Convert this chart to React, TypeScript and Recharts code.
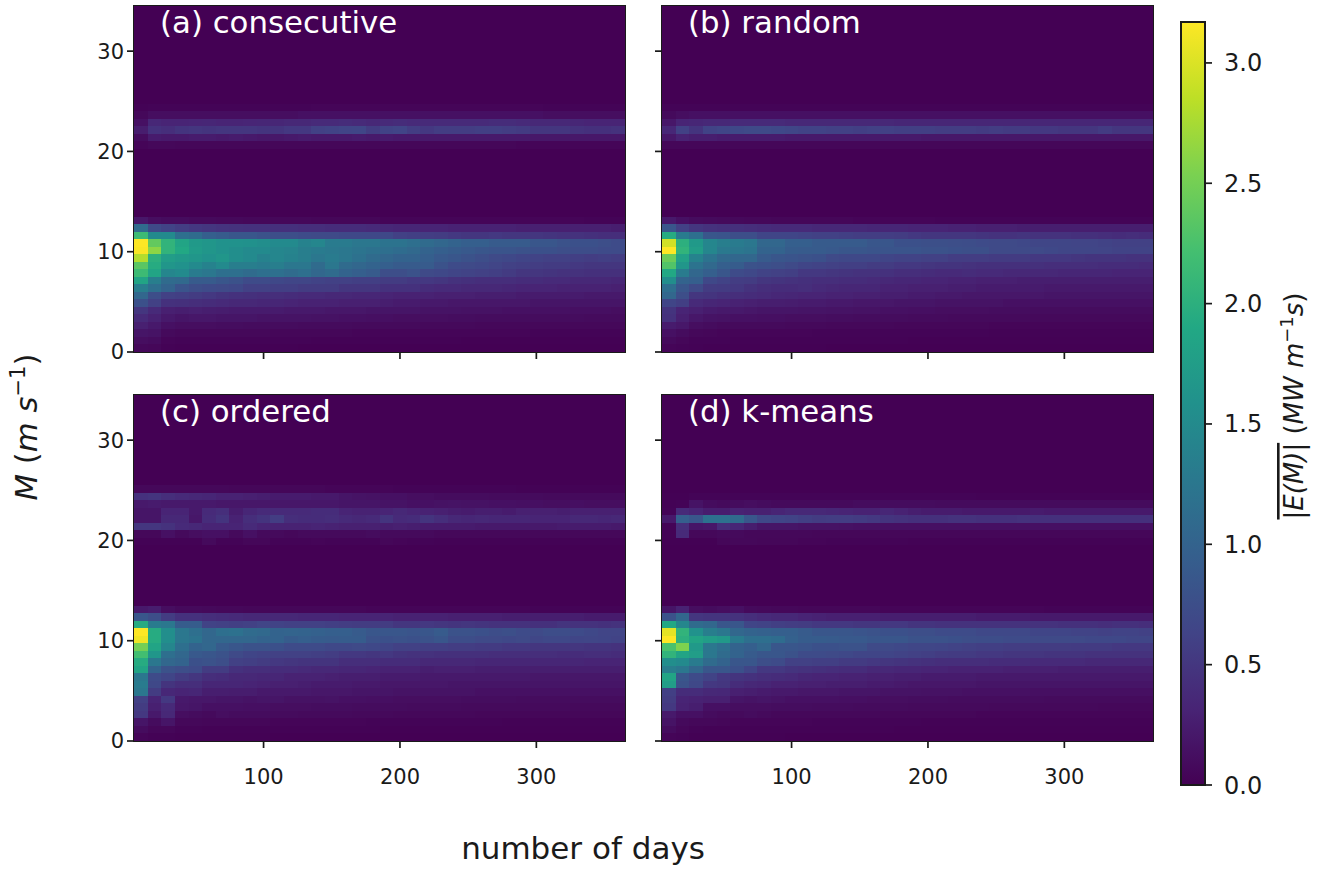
import React from 'react';
import { Bar, BarChart, Rectangle, ReferenceArea, XAxis, YAxis } from 'recharts';

// centre of each 10 day column
const days = [10, 20, 30, 40, 50, 60, 70, 80, 90, 100, 110, 120, 130, 140, 150, 160, 170, 180, 190, 200, 210, 220, 230, 240, 250, 260, 270, 280, 290, 300, 310, 320, 330, 340, 350, 360];
const binHeight = 0.75;
const binCount = 46;
const bandStart = 26;
const vMax = 3.17;

const viridis = ['#440154', '#482475', '#414487', '#355f8d', '#2a788e', '#21918c', '#22a884', '#44bf70', '#7ad151', '#bddf26', '#fde725'];
const yTicks = [0, 10, 20, 30];
const xTicks = [100, 200, 300];
const barTicks = [0, 0.5, 1, 1.5, 2, 2.5, 3];

// values are in 0.01 MW/m*s, rows go upward from M = 0 in 0.75 m/s bins, missing cells are 0
const consecutiveLow = [
  [6, 5, 2, 1, 1, 1, 1, 1, 1, 1, 1, 1],
  [12, 10, 4, 3, 3, 3, 3, 3, 3, 3, 3, 3, 3, 2, 2, 2, 2, 2, 2, 2, 2, 2, 2, 2, 1, 1, 1, 1, 1, 1, 1, 1, 1, 1, 1, 1],
  [18, 16, 8, 6, 6, 6, 6, 6, 6, 6, 5, 5, 5, 5, 5, 5, 4, 4, 4, 4, 4, 4, 4, 4, 4, 4, 4, 4, 4, 3, 3, 3, 3, 3, 3, 3],
  [28, 22, 14, 12, 12, 12, 11, 11, 10, 10, 10, 10, 9, 9, 9, 9, 8, 8, 8, 8, 8, 7, 7, 7, 7, 6, 6, 6, 6, 6, 6, 6, 6, 6, 6, 6],
  [38, 30, 22, 18, 20, 20, 18, 18, 18, 16, 16, 16, 16, 15, 15, 14, 14, 13, 13, 12, 12, 12, 12, 11, 11, 10, 10, 10, 10, 10, 10, 10, 10, 9, 9, 9],
  [50, 38, 28, 26, 28, 26, 25, 24, 24, 24, 24, 22, 22, 22, 20, 20, 20, 18, 18, 18, 18, 16, 16, 16, 15, 15, 15, 14, 14, 14, 14, 14, 13, 13, 13, 12],
  [78, 60, 45, 44, 42, 40, 38, 36, 36, 34, 34, 32, 30, 30, 30, 28, 28, 28, 26, 24, 24, 22, 22, 20, 20, 20, 20, 20, 20, 18, 18, 18, 18, 18, 18, 18],
  [105, 75, 60, 58, 55, 52, 48, 45, 44, 42, 42, 40, 38, 38, 36, 36, 34, 34, 32, 30, 30, 30, 28, 28, 28, 26, 26, 26, 24, 24, 24, 24, 24, 22, 22, 22],
  [135, 115, 100, 82, 75, 72, 70, 68, 60, 60, 58, 58, 55, 55, 55, 50, 50, 50, 45, 45, 45, 40, 38, 38, 36, 36, 36, 34, 32, 32, 32, 30, 30, 30, 30, 28],
  [185, 135, 110, 108, 90, 90, 85, 80, 72, 72, 68, 66, 66, 62, 60, 60, 58, 58, 55, 55, 52, 52, 50, 46, 44, 42, 42, 42, 40, 40, 38, 38, 36, 36, 36, 34],
  [215, 185, 145, 150, 130, 125, 115, 115, 110, 115, 115, 110, 115, 105, 110, 100, 95, 90, 75, 75, 80, 70, 68, 65, 62, 60, 58, 54, 50, 50, 48, 46, 46, 44, 44, 44],
  [235, 195, 165, 160, 150, 140, 150, 135, 135, 130, 135, 125, 125, 110, 125, 110, 105, 100, 95, 90, 90, 90, 80, 72, 70, 68, 64, 60, 58, 56, 54, 54, 52, 50, 50, 50],
  [280, 200, 175, 170, 165, 160, 165, 155, 150, 140, 145, 140, 135, 125, 130, 125, 118, 110, 105, 100, 100, 95, 88, 85, 80, 75, 70, 68, 65, 62, 60, 60, 58, 56, 58, 56],
  [315, 262, 205, 190, 172, 165, 160, 155, 150, 150, 145, 142, 135, 130, 128, 125, 122, 118, 115, 112, 108, 100, 95, 92, 88, 85, 82, 82, 80, 78, 78, 75, 74, 74, 72, 72],
  [318, 240, 205, 185, 170, 165, 160, 160, 158, 155, 150, 150, 140, 145, 130, 130, 125, 125, 120, 120, 115, 110, 105, 100, 95, 95, 90, 90, 90, 85, 85, 80, 78, 78, 75, 72],
  [215, 150, 150, 115, 110, 95, 90, 85, 85, 80, 75, 75, 72, 70, 70, 68, 68, 68, 68, 60, 58, 56, 55, 52, 50, 50, 52, 50, 50, 50, 48, 46, 46, 44, 42, 42],
  [110, 70, 62, 56, 52, 50, 47, 46, 45, 45, 44, 44, 42, 42, 40, 40, 40, 38, 36, 34, 34, 32, 32, 30, 30, 30, 30, 30, 28, 28, 28, 28, 28, 28, 28, 26],
  [20, 12, 10, 10, 8, 8, 7, 7, 6, 6, 6, 6, 6, 5, 5, 5, 5, 5, 4, 4, 4, 4, 4, 4, 4, 4, 4, 4, 4, 4, 4, 4, 4, 3, 3, 3],
];
const consecutiveBand = [
  [],
  [4, 6, 6, 5, 5, 5, 5, 5, 5, 5, 5, 5, 5, 5, 5, 5, 5, 5, 5, 5, 5, 5, 5, 5, 5, 5, 5, 5, 4, 4, 4, 4, 4, 4, 4, 4],
  [10, 24, 22, 22, 24, 24, 22, 24, 22, 20, 20, 22, 24, 22, 22, 22, 24, 22, 24, 22, 22, 22, 22, 22, 22, 22, 22, 22, 22, 20, 20, 20, 20, 20, 20, 20],
  [25, 45, 42, 48, 50, 48, 50, 50, 50, 48, 48, 52, 52, 60, 62, 64, 66, 55, 62, 64, 56, 52, 56, 56, 56, 58, 58, 56, 54, 50, 50, 50, 46, 44, 44, 46],
  [14, 35, 32, 32, 33, 34, 32, 32, 33, 34, 34, 36, 36, 38, 38, 40, 38, 36, 38, 40, 38, 38, 38, 38, 38, 38, 40, 40, 38, 36, 36, 36, 34, 32, 32, 32],
  [6, 12, 12, 12, 12, 12, 12, 12, 12, 12, 12, 12, 14, 14, 14, 14, 14, 14, 14, 14, 14, 14, 14, 14, 14, 14, 14, 14, 14, 14, 12, 12, 12, 12, 12, 12],
  [2, 3, 3, 3, 3, 3, 3, 3, 3, 3, 3, 3, 3, 4, 4, 4, 4, 4, 4, 4, 4, 4, 4, 4, 4, 4, 4, 4, 4, 4, 3, 3, 3, 3, 3, 3],
];

const randomLow = [
  [4, 3, 2, 1, 1, 1, 1, 1, 1, 1, 1, 1],
  [8, 5, 3, 3, 3, 2, 2, 2, 2, 2, 2, 2, 2, 2, 2, 2, 2, 2, 1, 1, 1, 1, 1, 1, 1, 1, 1, 1, 1, 1, 1, 1, 1, 1, 1, 1],
  [14, 10, 6, 5, 4, 4, 4, 4, 4, 4, 4, 3, 3, 3, 3, 3, 3, 3, 3, 3, 3, 3, 3, 3, 2, 2, 2, 2, 2, 2, 2, 2, 2, 2, 2, 2],
  [24, 20, 12, 10, 8, 8, 8, 8, 8, 7, 7, 7, 6, 6, 6, 6, 6, 5, 5, 5, 5, 5, 5, 5, 4, 4, 4, 4, 4, 4, 4, 4, 4, 4, 4, 4],
  [45, 28, 20, 16, 15, 14, 14, 13, 13, 12, 12, 12, 11, 11, 10, 10, 10, 10, 9, 9, 9, 8, 8, 8, 8, 8, 8, 7, 7, 7, 7, 7, 7, 7, 7, 7],
  [48, 32, 28, 24, 22, 22, 20, 18, 18, 18, 17, 17, 16, 16, 15, 15, 14, 14, 13, 13, 12, 12, 12, 12, 11, 11, 11, 10, 10, 10, 10, 10, 10, 10, 10, 10],
  [65, 58, 38, 34, 32, 30, 28, 26, 26, 25, 24, 24, 22, 22, 20, 20, 20, 18, 18, 18, 16, 16, 16, 16, 16, 14, 14, 14, 14, 14, 14, 14, 14, 14, 14, 14],
  [105, 75, 50, 48, 44, 42, 40, 38, 35, 34, 32, 32, 30, 30, 28, 28, 26, 26, 24, 24, 22, 22, 20, 20, 20, 20, 20, 20, 18, 18, 18, 18, 18, 18, 18, 18],
  [115, 85, 70, 55, 54, 52, 46, 42, 40, 40, 42, 38, 36, 34, 34, 34, 30, 30, 28, 28, 28, 26, 26, 24, 24, 24, 24, 24, 22, 22, 22, 22, 22, 22, 22, 22],
  [155, 100, 95, 68, 62, 56, 55, 50, 48, 46, 44, 42, 42, 40, 40, 38, 36, 34, 34, 32, 32, 30, 30, 28, 28, 28, 26, 26, 26, 26, 26, 26, 26, 26, 26, 26],
  [190, 130, 105, 95, 85, 72, 68, 62, 60, 58, 52, 52, 50, 48, 46, 46, 45, 42, 42, 40, 38, 38, 40, 38, 38, 36, 36, 36, 36, 34, 34, 34, 34, 32, 32, 32],
  [230, 165, 120, 108, 95, 92, 80, 78, 75, 70, 65, 62, 60, 58, 58, 55, 55, 52, 52, 50, 48, 48, 46, 44, 44, 44, 44, 44, 42, 42, 42, 42, 40, 40, 40, 38],
  [245, 180, 140, 120, 108, 105, 105, 90, 85, 82, 80, 78, 70, 68, 68, 68, 65, 62, 62, 60, 60, 56, 56, 56, 54, 54, 54, 52, 52, 52, 50, 48, 48, 48, 46, 46],
  [318, 205, 175, 145, 128, 125, 122, 100, 100, 92, 90, 90, 88, 85, 85, 82, 82, 82, 82, 80, 80, 78, 76, 76, 70, 70, 70, 70, 68, 66, 66, 66, 64, 62, 62, 62],
  [295, 200, 170, 145, 135, 130, 125, 105, 105, 95, 95, 90, 90, 90, 90, 85, 85, 78, 78, 76, 76, 75, 74, 72, 70, 70, 68, 66, 66, 66, 64, 64, 62, 60, 60, 60],
  [195, 130, 115, 85, 82, 75, 75, 65, 65, 65, 62, 60, 60, 58, 56, 56, 56, 55, 52, 50, 50, 50, 50, 48, 46, 46, 48, 46, 46, 46, 44, 44, 42, 40, 42, 40],
  [85, 60, 50, 46, 44, 44, 42, 40, 38, 38, 38, 36, 36, 36, 36, 34, 34, 34, 32, 32, 32, 30, 30, 28, 28, 28, 26, 26, 26, 26, 26, 26, 26, 26, 26, 26],
  [22, 14, 10, 9, 8, 7, 6, 6, 5, 5, 5, 5, 5, 5, 4, 4, 4, 4, 4, 4, 3, 3, 3, 3, 3, 3, 3, 3, 3, 3, 3, 3, 3, 3, 3, 3],
];
const randomBand = [
  [],
  [5, 5, 5, 5, 5, 5, 5, 5, 5, 5, 5, 5, 5, 5, 5, 5, 5, 5, 5, 5, 5, 5, 5, 5, 5, 5, 5, 5, 5, 5, 5, 5, 5, 5, 5, 5],
  [20, 30, 26, 26, 24, 24, 24, 24, 24, 22, 22, 22, 22, 22, 22, 22, 22, 22, 22, 20, 20, 20, 20, 20, 20, 20, 20, 20, 20, 20, 20, 20, 20, 20, 20, 20],
  [35, 60, 48, 62, 66, 68, 70, 70, 68, 66, 62, 62, 60, 60, 58, 60, 60, 58, 58, 58, 56, 56, 56, 54, 56, 54, 54, 52, 52, 50, 50, 50, 54, 50, 50, 50],
  [20, 32, 34, 36, 36, 38, 38, 38, 38, 36, 36, 36, 36, 36, 36, 36, 36, 34, 34, 34, 34, 34, 34, 34, 34, 34, 34, 34, 34, 34, 34, 34, 34, 34, 34, 34],
  [8, 12, 14, 14, 14, 14, 14, 14, 14, 14, 14, 14, 14, 14, 14, 14, 14, 14, 14, 14, 14, 14, 14, 14, 14, 14, 14, 14, 14, 14, 14, 14, 14, 14, 14, 14],
  [3, 3, 3, 3, 3, 3, 3, 3, 3, 3, 3, 3, 3, 3, 3, 3, 3, 3, 3, 3, 3, 3, 3, 3, 3, 3, 3, 3, 3, 3, 3, 3, 3, 3, 3, 3],
];

const orderedLow = [
  [4, 2, 2, 1, 1, 1, 1, 1, 1, 1],
  [10, 5, 5, 3, 3, 2, 2, 2, 2, 2, 2, 2, 2, 2, 2, 2, 2, 2, 1, 1, 1, 1, 1, 1, 1, 1, 1, 1, 1, 1, 1, 1, 1, 1, 1, 1],
  [18, 10, 18, 6, 6, 5, 5, 5, 5, 5, 4, 4, 4, 4, 4, 4, 4, 3, 3, 3, 3, 3, 3, 3, 3, 3, 3, 2, 2, 2, 2, 2, 2, 2, 2, 2],
  [52, 22, 36, 12, 10, 8, 12, 10, 10, 10, 9, 9, 8, 8, 8, 8, 7, 7, 7, 6, 6, 6, 6, 6, 6, 5, 5, 5, 5, 5, 5, 5, 5, 5, 5, 5],
  [55, 28, 38, 20, 18, 14, 14, 14, 13, 13, 12, 12, 12, 11, 11, 11, 10, 10, 10, 10, 9, 9, 9, 9, 8, 8, 8, 8, 8, 8, 8, 8, 7, 7, 7, 7],
  [60, 32, 52, 22, 20, 20, 18, 18, 16, 18, 18, 15, 15, 15, 16, 14, 14, 13, 13, 12, 12, 12, 12, 12, 11, 11, 11, 11, 10, 10, 10, 10, 10, 10, 10, 10],
  [125, 55, 35, 32, 34, 26, 26, 25, 25, 22, 22, 22, 22, 20, 20, 20, 18, 18, 18, 16, 16, 16, 16, 16, 16, 14, 14, 14, 14, 14, 14, 14, 14, 14, 14, 14],
  [130, 68, 48, 42, 42, 34, 34, 34, 32, 30, 28, 28, 26, 24, 24, 24, 22, 22, 20, 20, 20, 20, 20, 18, 18, 18, 18, 18, 18, 18, 18, 18, 18, 18, 18, 18],
  [125, 72, 65, 55, 50, 42, 40, 36, 36, 34, 34, 30, 30, 30, 28, 26, 26, 26, 24, 24, 24, 22, 22, 22, 22, 22, 22, 22, 22, 20, 20, 20, 20, 20, 20, 20],
  [185, 100, 80, 75, 72, 55, 55, 45, 42, 42, 40, 40, 38, 36, 36, 34, 34, 32, 30, 30, 30, 26, 28, 28, 28, 26, 26, 26, 26, 26, 26, 26, 26, 26, 26, 26],
  [195, 125, 105, 100, 78, 80, 75, 60, 58, 55, 52, 50, 48, 48, 48, 42, 42, 42, 40, 40, 40, 36, 36, 36, 36, 34, 34, 34, 34, 34, 34, 34, 34, 32, 32, 32],
  [220, 165, 115, 105, 88, 85, 80, 70, 65, 62, 60, 60, 60, 58, 56, 52, 52, 50, 52, 48, 46, 46, 44, 44, 44, 44, 42, 42, 42, 42, 42, 40, 40, 42, 42, 40],
  [250, 185, 145, 115, 100, 105, 90, 85, 80, 80, 78, 72, 72, 72, 68, 68, 70, 68, 65, 60, 60, 58, 58, 56, 56, 54, 54, 52, 52, 50, 50, 50, 50, 48, 48, 46],
  [310, 195, 155, 125, 120, 105, 105, 105, 105, 100, 100, 92, 95, 92, 90, 92, 92, 80, 78, 80, 78, 80, 85, 74, 74, 70, 70, 68, 70, 66, 68, 68, 65, 66, 65, 62],
  [318, 195, 155, 125, 115, 105, 115, 118, 110, 108, 100, 102, 100, 98, 95, 95, 90, 85, 85, 85, 82, 85, 90, 80, 80, 78, 74, 76, 72, 70, 74, 74, 72, 68, 64, 64],
  [195, 130, 125, 92, 92, 62, 60, 58, 60, 64, 62, 60, 60, 60, 58, 56, 55, 55, 55, 50, 50, 52, 50, 48, 50, 48, 46, 46, 46, 44, 44, 48, 46, 46, 44, 46],
  [85, 75, 55, 45, 45, 42, 40, 38, 36, 36, 36, 36, 34, 34, 34, 32, 32, 32, 32, 30, 30, 30, 30, 28, 28, 28, 28, 26, 26, 26, 26, 26, 26, 24, 24, 24],
  [22, 25, 12, 8, 8, 7, 6, 6, 5, 5, 5, 5, 5, 5, 5, 5, 5, 4, 4, 4, 4, 4, 4, 4, 4, 4, 4, 4, 4, 3, 3, 3, 3, 3, 3, 3],
];
const orderedBand = [
  [2, 2, 2, 2, 2, 8, 3, 3, 5, 5, 3, 3, 3, 4, 3, 3, 3, 3, 5, 4, 3, 3, 2, 2, 2, 2, 2, 2, 2, 2, 2, 2, 2, 2, 2, 2],
  [6, 6, 14, 8, 12, 14, 14, 8, 14, 8, 8, 6, 8, 8, 8, 8, 8, 10, 8, 8, 8, 8, 6, 6, 6, 6, 6, 6, 6, 6, 6, 6, 6, 6, 6, 6],
  [50, 50, 46, 38, 36, 32, 32, 32, 38, 32, 30, 30, 30, 32, 30, 28, 28, 28, 26, 28, 26, 24, 24, 24, 24, 22, 22, 22, 22, 22, 22, 24, 24, 24, 24, 22],
  [18, 18, 36, 36, 20, 40, 48, 30, 42, 48, 56, 42, 40, 40, 42, 38, 36, 38, 48, 38, 40, 48, 42, 36, 34, 36, 34, 34, 34, 32, 32, 32, 36, 36, 34, 36],
  [18, 18, 32, 32, 22, 38, 42, 25, 34, 38, 38, 38, 38, 40, 40, 32, 30, 30, 32, 36, 32, 30, 28, 25, 24, 26, 26, 24, 28, 28, 28, 26, 28, 28, 28, 28],
  [22, 24, 22, 22, 22, 22, 20, 20, 20, 20, 20, 20, 20, 20, 20, 18, 18, 18, 16, 16, 14, 14, 15, 16, 15, 15, 14, 14, 13, 13, 12, 12, 13, 12, 12, 12],
  [45, 48, 42, 38, 36, 34, 30, 30, 28, 26, 24, 24, 24, 22, 22, 18, 16, 15, 14, 14, 12, 12, 10, 10, 10, 10, 9, 9, 9, 9, 8, 8, 8, 8, 8, 8],
  [6, 6, 6, 6, 6, 6, 6, 5, 5, 5, 5, 5, 5, 5, 4, 4, 4, 4, 4, 3, 3, 3, 3, 3, 3, 3, 3, 3, 2, 2, 2, 2, 2, 2, 2, 2],
];

const kmeansLow = [
  [4, 3, 1, 1, 1, 1, 1, 1, 1],
  [10, 5, 3, 2, 2, 2, 2, 2, 2, 2, 2, 2, 2, 2, 2, 2, 2, 1, 1, 1, 1, 1, 1, 1, 1, 1, 1, 1, 1, 1, 1, 1, 1, 1, 1, 1],
  [16, 8, 6, 6, 5, 4, 4, 4, 4, 4, 4, 3, 3, 3, 3, 3, 3, 3, 3, 2, 2, 2, 2, 2, 2, 2, 2, 2, 2, 2, 2, 2, 2, 2, 2, 2],
  [22, 14, 14, 10, 8, 8, 10, 8, 6, 6, 6, 6, 6, 6, 6, 6, 5, 5, 5, 5, 5, 5, 5, 4, 4, 4, 4, 4, 4, 4, 4, 4, 4, 4, 4, 4],
  [52, 30, 26, 14, 14, 12, 12, 12, 11, 11, 11, 10, 10, 10, 9, 9, 9, 9, 8, 8, 8, 8, 8, 8, 7, 7, 7, 7, 7, 7, 7, 7, 6, 6, 6, 6],
  [55, 32, 30, 28, 28, 18, 16, 18, 16, 14, 14, 14, 14, 13, 13, 12, 12, 12, 11, 11, 11, 10, 10, 10, 10, 10, 10, 10, 9, 9, 9, 9, 9, 9, 9, 9],
  [58, 40, 40, 36, 35, 28, 26, 24, 22, 22, 20, 20, 20, 18, 18, 18, 16, 16, 16, 15, 15, 15, 14, 14, 14, 14, 14, 13, 13, 13, 13, 13, 13, 13, 13, 13],
  [175, 80, 68, 52, 50, 40, 36, 34, 30, 30, 28, 28, 26, 26, 26, 24, 24, 22, 20, 20, 20, 20, 20, 18, 18, 18, 18, 18, 18, 18, 18, 18, 18, 18, 18, 18],
  [185, 85, 72, 62, 52, 48, 45, 42, 40, 38, 34, 32, 32, 30, 30, 28, 28, 26, 26, 24, 24, 24, 24, 22, 22, 22, 22, 22, 22, 22, 22, 22, 22, 22, 22, 22],
  [135, 125, 105, 85, 85, 78, 65, 52, 52, 48, 46, 44, 42, 40, 40, 36, 36, 34, 34, 32, 32, 30, 30, 30, 30, 28, 28, 28, 28, 26, 26, 26, 26, 26, 26, 26],
  [155, 150, 130, 110, 100, 85, 85, 75, 72, 60, 60, 58, 58, 54, 54, 52, 50, 48, 46, 44, 42, 42, 42, 42, 40, 40, 40, 38, 38, 38, 38, 36, 36, 36, 36, 36],
  [205, 185, 175, 125, 110, 100, 90, 85, 85, 80, 72, 72, 70, 68, 65, 65, 65, 62, 60, 58, 55, 54, 54, 52, 52, 50, 50, 50, 48, 48, 48, 46, 46, 46, 46, 46],
  [225, 255, 170, 125, 115, 100, 95, 105, 85, 85, 82, 78, 78, 80, 80, 70, 70, 68, 66, 66, 65, 62, 60, 58, 58, 56, 56, 55, 55, 55, 54, 54, 54, 52, 52, 52],
  [318, 200, 185, 175, 170, 130, 115, 115, 112, 98, 92, 92, 90, 88, 88, 85, 85, 85, 80, 80, 80, 78, 75, 74, 74, 72, 72, 70, 70, 70, 70, 68, 68, 68, 66, 66],
  [305, 205, 160, 135, 125, 105, 100, 98, 95, 95, 90, 85, 85, 85, 82, 80, 78, 78, 75, 75, 72, 72, 72, 68, 68, 68, 68, 65, 65, 65, 62, 62, 60, 62, 62, 60],
  [190, 145, 110, 105, 85, 85, 65, 62, 58, 56, 55, 52, 52, 52, 50, 50, 52, 52, 48, 48, 46, 46, 46, 46, 46, 46, 46, 46, 46, 44, 44, 44, 42, 44, 44, 42],
  [80, 105, 50, 48, 48, 46, 42, 38, 36, 36, 32, 30, 28, 28, 28, 28, 26, 26, 26, 26, 26, 26, 26, 24, 24, 24, 24, 22, 22, 22, 22, 22, 22, 22, 22, 22],
  [18, 30, 12, 10, 12, 14, 8, 7, 6, 6, 5, 5, 5, 5, 5, 5, 4, 4, 4, 4, 4, 4, 4, 4, 4, 4, 4, 4, 3, 3, 3, 3, 3, 3, 3, 3],
];
const kmeansBand = [
  [1, 1, 1, 1, 5, 6, 6, 5, 5, 5, 4, 4, 3, 3, 3, 3, 3, 3, 2, 2, 2, 2, 2, 2, 2, 2, 2, 2, 2, 2, 2, 2, 2, 2, 2, 2],
  [2, 38, 6, 6, 8, 8, 6, 6, 6, 6, 6, 5, 5, 5, 5, 5, 5, 5, 5, 5, 5, 5, 5, 5, 5, 5, 5, 5, 5, 5, 5, 5, 5, 5, 5, 5],
  [3, 42, 18, 20, 40, 34, 25, 18, 18, 18, 16, 16, 16, 15, 14, 14, 14, 14, 14, 14, 14, 14, 14, 14, 14, 14, 14, 14, 14, 14, 14, 14, 14, 14, 14, 14],
  [22, 95, 85, 118, 118, 110, 85, 68, 65, 62, 58, 55, 56, 56, 54, 52, 48, 46, 44, 44, 44, 46, 46, 44, 44, 44, 46, 44, 44, 44, 44, 44, 44, 44, 44, 44],
  [3, 38, 32, 25, 25, 30, 28, 28, 32, 36, 36, 36, 34, 32, 30, 30, 34, 30, 26, 24, 24, 24, 22, 22, 22, 22, 22, 24, 22, 22, 22, 22, 22, 22, 22, 22],
  [2, 3, 16, 10, 8, 10, 12, 10, 8, 8, 8, 8, 8, 8, 10, 10, 10, 10, 10, 10, 9, 9, 9, 9, 9, 9, 9, 9, 9, 9, 9, 9, 9, 9, 9, 9],
  [1, 1, 3, 3, 3, 3, 3, 3, 3, 3, 3, 3, 3, 3, 3, 3, 3, 3, 3, 3, 3, 3, 3, 2, 2, 2, 2, 2, 2, 2, 2, 2, 2, 2, 2, 2],
];

const binIndexes = Array.from({ length: binCount }, (_, k) => k);
const font = '"DejaVu Sans", sans-serif';
const inkColor = '#1a1a1a';

function hexToRgb(hex: string) {
  return [1, 3, 5].map((i) => parseInt(hex.slice(i, i + 2), 16));
}

// maps a value onto the colour map, same thing imshow would do
function colorFor(value: number) {
  const t = Math.min(value / vMax, 1) * (viridis.length - 1);
  const i = Math.min(Math.floor(t), viridis.length - 2);
  const a = hexToRgb(viridis[i]);
  const b = hexToRgb(viridis[i + 1]);
  const mix = a.map((c, n) => Math.round(c + (b[n] - c) * (t - i)));
  return `rgb(${mix.join(',')})`;
}

function buildTable(low: number[][], band: number[][]) {
  return days.map((day, c) => {
    const entry: Record<string, number> = { day };
    binIndexes.forEach((k) => {
      const row = k < low.length ? low[k] : band[k - bandStart] || [];
      entry[`h${k}`] = binHeight;
      entry[`v${k}`] = (row[c] || 0) / 100;
    });
    return entry;
  });
}

interface PanelProps {
  title: string;
  low: number[][];
  band: number[][];
  left: number;
  top: number;
  showX: boolean;
  showY: boolean;
}

const yAxisWidth = 74;

function Panel({ title, low, band, left, top, showX, showY }: PanelProps) {
  const data = buildTable(low, band);
  const tick = { fontSize: 21, fill: inkColor, fontFamily: font };
  const tickLine = { stroke: inkColor, strokeWidth: 1.7 };
  return (
    <div style={{ position: 'absolute', left, top, width: 570, height: 412 }}>
      <BarChart
        width={570}
        height={412}
        data={data}
        barCategoryGap={0}
        barGap={0}
        margin={{ top: 6, right: 5, bottom: 0, left: 0 }}
      >
        <XAxis
          dataKey="day"
          type="number"
          domain={[5, 365]}
          ticks={xTicks}
          tick={tick}
          tickLine={tickLine}
          tickSize={7}
          tickMargin={21}
          axisLine={false}
          height={60}
          tickFormatter={(v) => (showX ? String(v) : '')}
        />
        <YAxis
          type="number"
          domain={[0, binCount * binHeight]}
          ticks={yTicks}
          tick={tick}
          tickLine={tickLine}
          tickSize={7}
          tickMargin={3}
          axisLine={false}
          width={yAxisWidth}
          allowDataOverflow
          tickFormatter={(v) => (showY ? String(v) : '')}
        />
        {binIndexes.map((k) => (
          <Bar
            key={k}
            dataKey={`h${k}`}
            stackId="cells"
            isAnimationActive={false}
            shape={(p: any) => (
              <Rectangle
                x={p.x}
                y={p.y}
                width={p.width}
                height={p.height}
                fill={colorFor(p.payload[`v${k}`])}
                shapeRendering="crispEdges"
              />
            )}
          />
        ))}
        <ReferenceArea
          x1={5}
          x2={365}
          y1={0}
          y2={binCount * binHeight}
          fill="none"
          stroke={inkColor}
          strokeWidth={2}
          ifOverflow="visible"
        />
      </BarChart>
      <div
        style={{
          position: 'absolute',
          left: yAxisWidth + 26,
          top: 4,
          color: '#fff',
          fontFamily: font,
          fontSize: 30.8,
          lineHeight: '36px',
          whiteSpace: 'pre',
        }}
      >
        {title}
      </div>
    </div>
  );
}

function ColorBar() {
  return (
    <div style={{ position: 'absolute', left: 1170, top: 10 }}>
      <BarChart
        width={140}
        height={800}
        data={[{ name: 'scale', top: vMax }]}
        barCategoryGap={0}
        margin={{ top: 12, right: 0, bottom: 25, left: 11 }}
      >
        <defs>
          <linearGradient id="viridisBar" x1="0" y1="1" x2="0" y2="0">
            {viridis.map((c, i) => (
              <stop key={c} offset={`${(i / (viridis.length - 1)) * 100}%`} stopColor={c} />
            ))}
          </linearGradient>
        </defs>
        <XAxis dataKey="name" hide />
        <YAxis
          orientation="right"
          type="number"
          domain={[0, vMax]}
          ticks={barTicks}
          interval={0}
          tick={{ fontSize: 24, fill: inkColor, fontFamily: font }}
          tickLine={{ stroke: inkColor, strokeWidth: 1.7 }}
          tickSize={7}
          tickMargin={12}
          axisLine={false}
          width={105}
          tickFormatter={(v) => Number(v).toFixed(1)}
        />
        <Bar dataKey="top" fill="url(#viridisBar)" stroke={inkColor} strokeWidth={2} isAnimationActive={false} />
      </BarChart>
    </div>
  );
}

export default function App() {
  return (
    <div style={{ position: 'absolute', left: 0, top: 0, width: 1321, height: 871, background: '#fff', overflow: 'hidden' }}>
      <Panel title="(a) consecutive" low={consecutiveLow} band={consecutiveBand} left={60} top={0} showX={false} showY />
      <Panel title="(b) random" low={randomLow} band={randomBand} left={588} top={0} showX={false} showY={false} />
      <Panel title="(c) ordered" low={orderedLow} band={orderedBand} left={60} top={389} showX showY />
      <Panel title="(d) k-means" low={kmeansLow} band={kmeansBand} left={588} top={389} showX showY={false} />
      <ColorBar />
      <svg width={1321} height={871} style={{ position: 'absolute', left: 0, top: 0, pointerEvents: 'none' }} fontFamily={font} fill={inkColor}>
        <text x={583} y={859} fontSize={31} textAnchor="middle">number of days</text>
        <text transform="translate(37,427) rotate(-90)" fontSize={30.7} textAnchor="middle">
          <tspan fontStyle="italic">M</tspan> (<tspan fontStyle="italic">m s</tspan>
          <tspan dy={-12} fontSize={21}>−1</tspan>
          <tspan dy={12}>)</tspan>
        </text>
        <text transform="translate(1303,406) rotate(-90)" fontSize={26} textAnchor="middle">
          <tspan style={{ textDecoration: 'overline' }} fontStyle="italic">|E(M)|</tspan> (<tspan fontStyle="italic">MW m</tspan>
          <tspan dy={-10} fontSize={18}>−1</tspan>
          <tspan dy={10} fontStyle="italic">s</tspan>)
        </text>
      </svg>
    </div>
  );
}
